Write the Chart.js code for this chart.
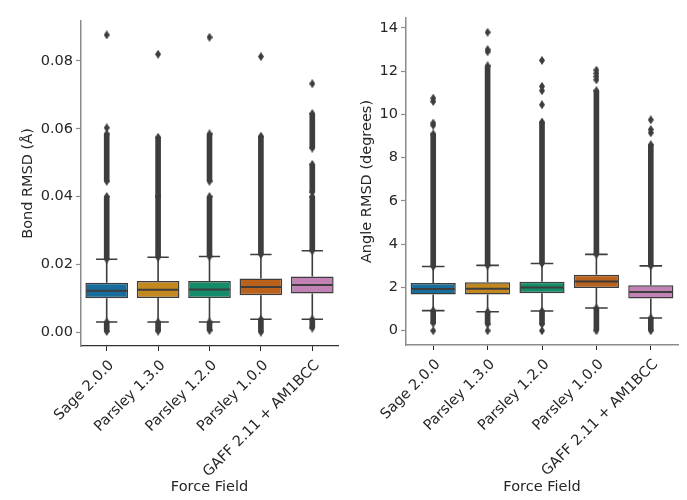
<!DOCTYPE html>
<html>
<head>
<meta charset="utf-8">
<script src="https://cdn.jsdelivr.net/npm/chart.js@4.4.0/dist/chart.umd.min.js"></script>
<style>
  html, body { margin: 0; padding: 0; background: #fff; }
  #wrap { position: relative; width: 687px; height: 500px; }
  .pane { position: absolute; top: 0; height: 500px; }
  #p1 { left: 0; width: 345px; }
  #p2 { left: 345px; width: 342px; }
</style>
</head>
<body>
<div id="wrap">
  <div class="pane" id="p1"><canvas id="c1"></canvas></div>
  <div class="pane" id="p2"><canvas id="c2"></canvas></div>
</div>
<script>
  var labels = ['Sage 2.0.0', 'Parsley 1.3.0', 'Parsley 1.2.0', 'Parsley 1.0.0', 'GAFF 2.11 + AM1BCC'];
  var colors = ['#176d9c', '#c38820', '#168b6a', '#ba611b', '#c282b6'];

  // Bond RMSD (Å)
  var bondQ1  = [0.0100, 0.0101, 0.0101, 0.0109, 0.0114];
  var bondMed = [0.0122, 0.0125, 0.0126, 0.0133, 0.0139];
  var bondQ3  = [0.0146, 0.0151, 0.0151, 0.0158, 0.0164];
  var bondLo  = [0.0030, 0.0030, 0.0030, 0.0038, 0.0038];
  var bondHi  = [0.0215, 0.0221, 0.0223, 0.0229, 0.0240];
  // runs of overlapping outliers above the upper whisker
  var bondDense = [
    [[0.0215, 0.0400], [0.0445, 0.0585]],
    [[0.0221, 0.0400], [0.0400, 0.0575]],
    [[0.0223, 0.0400], [0.0445, 0.0585]],
    [[0.0229, 0.0578]],
    [[0.0240, 0.0400], [0.0413, 0.0495], [0.0543, 0.0645]]
  ];
  var bondDenseLow = [[0.0002, 0.0030], [0.0003, 0.0030], [0.0005, 0.0030], [0.0000, 0.0038], [0.0012, 0.0038]];
  var bondFliers = [[0.0603, 0.0877], [0.0820], [0.0870], [0.0813], [0.0733]];
  var bondTicks = [0, 0.02, 0.04, 0.06, 0.08];

  // Angle RMSD (degrees)
  var angQ1  = [1.67, 1.68, 1.73, 1.97, 1.49];
  var angMed = [1.93, 1.94, 2.00, 2.28, 1.79];
  var angQ3  = [2.21, 2.24, 2.27, 2.59, 2.10];
  var angLo  = [0.93, 0.88, 0.91, 1.05, 0.59];
  var angHi  = [2.97, 3.02, 3.11, 3.53, 3.00];
  var angDense = [
    [[2.97, 9.10]],
    [[3.02, 12.25]],
    [[3.11, 9.65]],
    [[3.53, 11.10]],
    [[3.00, 8.60]]
  ];
  var angDenseLow = [[0.35, 0.93], [0.30, 0.88], [0.30, 0.91], [0.00, 1.05], [0.00, 0.59]];
  var angFliers = [[0.0, 9.5, 9.6, 10.6, 10.75], [0.0, 12.9, 13.0, 13.8], [0.0, 10.45, 11.1, 11.3, 12.5],
                   [11.6, 11.75, 11.9, 12.05], [9.15, 9.3, 9.75]];
  var angTicks = [0, 2, 4, 6, 8, 10, 12, 14];

  var ink = '#262626';
  var edge = '#3d3d3d';
  var font = { family: 'DejaVu Sans', size: 14.5 };

  // thin diamond marker, like matplotlib 'd'
  var diamond = document.createElement('canvas');
  diamond.width = 6; diamond.height = 9;
  (function() {
    var g = diamond.getContext('2d');
    g.fillStyle = edge;
    g.beginPath(); g.moveTo(3, 0); g.lineTo(6, 4.5); g.lineTo(3, 9); g.lineTo(0, 4.5); g.closePath(); g.fill();
  })();

  var whiskerPlugin = {
    id: 'boxWhisker',
    afterDatasetsDraw: function(chart, args, o) {
      var ctx = chart.ctx, ys = chart.scales.y;
      var bars = chart.getDatasetMeta(0).data;
      ctx.save();
      ctx.strokeStyle = edge;
      ctx.lineCap = 'butt';
      bars.forEach(function(bar, i) {
        var x = bar.x, hw = bar.width / 2, cw = hw / 2;
        var yq1 = ys.getPixelForValue(o.q1[i]), yq3 = ys.getPixelForValue(o.q3[i]);
        var ylo = ys.getPixelForValue(o.lo[i]), yhi = ys.getPixelForValue(o.hi[i]);
        var ym = ys.getPixelForValue(o.med[i]);
        ctx.lineWidth = 1.6;
        ctx.beginPath();
        ctx.moveTo(x, yq3); ctx.lineTo(x, yhi);
        ctx.moveTo(x, yq1); ctx.lineTo(x, ylo);
        ctx.moveTo(x - cw, yhi); ctx.lineTo(x + cw, yhi);
        ctx.moveTo(x - cw, ylo); ctx.lineTo(x + cw, ylo);
        ctx.stroke();
        ctx.lineWidth = 2;
        ctx.beginPath();
        ctx.moveTo(x - hw + 1, ym); ctx.lineTo(x + hw - 1, ym);
        ctx.stroke();
      });
      ctx.restore();
    }
  };

  function buildChart(id, d) {
    var datasets = [{
      type: 'bar',
      data: d.q1.map(function(v, i) { return [v, d.q3[i]]; }),
      backgroundColor: colors,
      borderColor: edge,
      borderWidth: 1.5,
      borderSkipped: false,
      barPercentage: 0.83,
      categoryPercentage: 1,
      grouped: false
    }];
    var maxRuns = Math.max.apply(null, d.dense.map(function(r) { return r.length; }));
    for (var k = 0; k < maxRuns; k++) {
      datasets.push({
        type: 'bar',
        data: d.dense.map(function(r) { return r[k] || null; }),
        backgroundColor: edge,
        barThickness: 5,
        grouped: false
      });
    }
    datasets.push({
      type: 'bar',
      data: d.denseLow,
      backgroundColor: edge,
      barThickness: 5,
      grouped: false
    });
    var pts = [];
    labels.forEach(function(lab, i) {
      d.dense[i].concat([d.denseLow[i]]).forEach(function(r) {
        pts.push({ x: lab, y: r[0] }, { x: lab, y: r[1] });
      });
      d.fliers[i].forEach(function(v) { pts.push({ x: lab, y: v }); });
    });
    datasets.push({
      type: 'line',
      data: pts,
      showLine: false,
      pointStyle: diamond,
      pointRadius: 4
    });

    return new Chart(document.getElementById(id), {
      type: 'bar',
      data: { labels: labels, datasets: datasets },
      plugins: [whiskerPlugin],
      options: {
        responsive: true,
        maintainAspectRatio: false,
        animation: false,
        layout: { padding: d.pad },
        plugins: {
          legend: { display: false },
          tooltip: { enabled: false },
          boxWhisker: { q1: d.q1, q3: d.q3, lo: d.lo, hi: d.hi, med: d.med }
        },
        scales: {
          x: {
            offset: true,
            afterFit: function(s) { s.height = d.xHeight; },
            grid: { offset: false, drawOnChartArea: false, tickLength: 5, tickColor: ink, tickWidth: 1 },
            border: { color: d.xBorder, width: d.xBorderW },
            ticks: { autoSkip: false, minRotation: 45, maxRotation: 45, padding: 6, labelOffset: 5, color: ink, font: font },
            title: { display: true, text: 'Force Field', color: ink, font: font, padding: { top: 0, bottom: 4 } }
          },
          y: {
            min: d.min, max: d.max,
            afterBuildTicks: function(s) { s.ticks = d.ticks.map(function(v) { return { value: v }; }); },
            afterFit: function(s) { s.width = d.yWidth; },
            grid: { drawOnChartArea: false, tickLength: 5, tickColor: '#8c8c8c', tickWidth: 1.2 },
            border: { color: '#8c8c8c', width: 1.5 },
            ticks: { color: ink, font: font, padding: 3, callback: d.fmt },
            title: { display: true, text: d.title, color: ink, font: font, padding: { top: d.titlePad, bottom: 0 } }
          }
        }
      }
    });
  }

  buildChart('c1', {
    q1: bondQ1, med: bondMed, q3: bondQ3, lo: bondLo, hi: bondHi,
    dense: bondDense, denseLow: bondDenseLow, fliers: bondFliers, ticks: bondTicks,
    min: -0.0041, max: 0.0918, title: 'Bond RMSD (Å)',
    fmt: function(v) { return v.toFixed(2); },
    pad: { left: 0, right: 7, top: 21, bottom: 0 }, yWidth: 81, xHeight: 154, titlePad: 20,
    xBorder: '#333333', xBorderW: 1.2
  });

  buildChart('c2', {
    q1: angQ1, med: angMed, q3: angQ3, lo: angLo, hi: angHi,
    dense: angDense, denseLow: angDenseLow, fliers: angFliers, ticks: angTicks,
    min: -0.66, max: 14.46, title: 'Angle RMSD (degrees)',
    fmt: function(v) { return String(v); },
    pad: { left: 0, right: 9, top: 18, bottom: 0 }, yWidth: 61, xHeight: 155, titlePad: 14,
    xBorder: '#8c8c8c', xBorderW: 1.5
  });
</script>
</body>
</html>
